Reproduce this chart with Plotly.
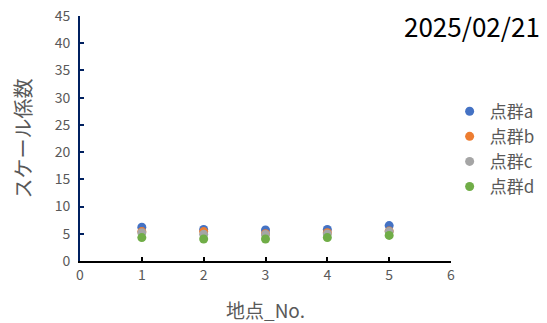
import plotly.graph_objects as go

x_points = [1, 2, 3, 4, 5]
series_names = ["点群a", "点群b", "点群c", "点群d"]
values_a = [6.2, 5.8, 5.7, 5.8, 6.5]
values_b = [5.4, 5.4, 5.0, 5.2, 5.5]
values_c = [5.2, 4.9, 4.85, 4.95, 5.4]
values_d = [4.3, 4.05, 4.05, 4.3, 4.7]
colors = ["#4472C4", "#ED7D31", "#A5A5A5", "#70AD47"]
y_ticks = [0, 5, 10, 15, 20, 25, 30, 35, 40, 45]
x_ticks = [0, 1, 2, 3, 4, 5, 6]
date_label = "2025/02/21"

font_family = "Noto Sans CJK JP"
grey = "#595959"

fig = go.Figure()
for name, vals, col in zip(series_names, [values_a, values_b, values_c, values_d], colors):
    fig.add_trace(go.Scatter(
        x=x_points, y=vals, mode="markers", name=name,
        marker=dict(color=col, size=9, line=dict(width=0)),
    ))

fig.update_layout(
    width=547, height=323,
    margin=dict(l=80, r=96, t=16, b=62, autoexpand=False),
    plot_bgcolor="white", paper_bgcolor="white",
    font=dict(family=font_family, color=grey),
    showlegend=True,
    legend=dict(
        xref="container", yref="container",
        x=0.822, y=0.71, xanchor="left", yanchor="top",
        font=dict(size=17, color=grey, family=font_family),
        itemwidth=30, tracegroupgap=0,
    ),
    xaxis=dict(
        range=[0, 6], tickvals=x_ticks, ticks="inside", ticklen=4, tickwidth=2, tickcolor="black",
        showline=True, linecolor="black", linewidth=2, showgrid=False, zeroline=False,
        automargin=False,
        tickfont=dict(size=14, color=grey, family=font_family),
        title=dict(text="地点_No.", font=dict(size=19, color=grey, family=font_family), standoff=22),
    ),
    yaxis=dict(
        range=[0, 45], tickvals=y_ticks, ticks="inside", ticklen=4, tickwidth=2, tickcolor="#002060",
        showline=True, linecolor="#002060", linewidth=2, showgrid=False, zeroline=False,
        automargin=False, ticklabelstandoff=5,
        tickfont=dict(size=14, color=grey, family=font_family),
        title=dict(text="スケール係数", font=dict(size=20, color=grey, family=font_family), standoff=18),
    ),
    annotations=[dict(
        text=date_label, xref="paper", yref="paper", x=1.245, y=0.963,
        xanchor="right", yanchor="middle", showarrow=False,
        font=dict(size=26, color="black", family=font_family),
    )],
)

fig.write_html("out.html")
